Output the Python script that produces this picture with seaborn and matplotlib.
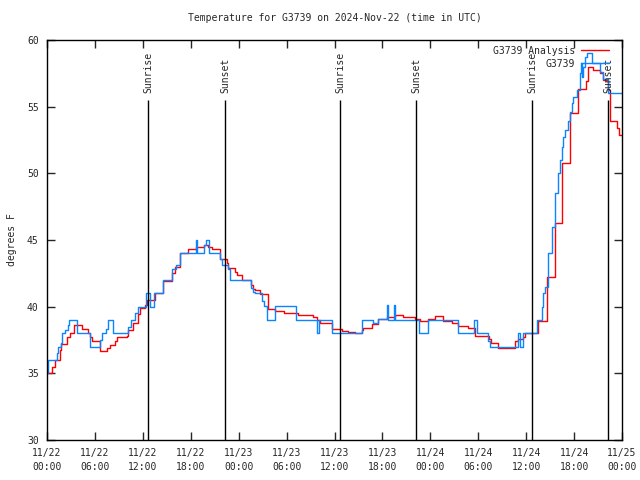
import matplotlib
matplotlib.use("Agg")
import matplotlib.pyplot as plt
import matplotlib.dates as mdates
import seaborn as sns
import numpy as np
import pandas as pd

# data (hours since 2024-11-22 00:00 UTC, degrees F)
analysis_hours = [0, 0.58, 1.0, 1.63, 1.75, 2.46, 2.88, 3.42, 4.42, 5.18, 5.38, 5.68, 6.64,
                  7.47, 7.9, 8.5, 8.72, 10.0, 10.18, 10.8, 11.4, 11.6, 12.3, 12.5, 13.5, 14.57,
                  15.6, 16.0, 16.65, 17.7, 18.7, 19.6, 20.2, 20.6, 21.66, 22.5, 22.7, 23.5,
                  23.8, 24.4, 25.6, 25.84, 26.05, 26.67, 27.63, 28.55, 29.7, 30.4, 31.47, 33.35,
                  33.77, 34.2, 35.65, 36.9, 37.73, 38.57, 39.4, 39.6, 40.65, 41.5, 42.53, 43.57,
                  44.6, 46.08, 46.7, 47.75, 48.6, 49.6, 50.67, 51.5, 52.76, 53.6, 55.35, 55.6,
                  56.52, 58.6, 59.03, 59.65, 59.86, 61.52, 62.56, 63.6, 64.44, 65.49, 66.53,
                  67.49, 67.78, 68.41, 69.25, 69.58, 70.29, 70.5, 71.42, 71.67, 72]
analysis_temp = [35.0, 35.5, 36.0, 36.75, 37.2, 37.75, 38.05, 38.6, 38.3, 38.05, 37.75, 37.4, 36.7,
                 36.9, 37.1, 37.4, 37.7, 37.8, 38.25, 38.75, 39.45, 39.9, 40.1, 40.5, 41.0, 41.95,
                 42.5, 43.0, 44.0, 44.3, 44.5, 44.6, 44.5, 44.3, 43.55, 43.25, 42.9, 42.6,
                 42.4, 42.0, 41.6, 41.3, 41.25, 40.95, 39.8, 39.7, 39.55, 39.5, 39.4, 39.25,
                 39.0, 38.8, 38.3, 38.2, 38.1, 38.05, 38.25, 38.4, 38.7, 39.05, 39.25, 39.4,
                 39.25, 39.1, 38.9, 39.1, 39.3, 38.9, 38.8, 38.55, 38.37, 37.8, 37.55, 37.3,
                 36.9, 37.45, 37.55, 37.75, 38.0, 38.9, 42.2, 46.3, 50.8, 54.5, 56.3,
                 56.9, 57.95, 57.75, 57.5, 57.0, 56.25, 53.95, 53.4, 52.9, 52.9]

station_hours = [0, 0.17, 1.21, 1.42, 1.75, 1.92, 2.25, 2.59, 2.75, 3.71, 5.38, 6.64, 6.85, 7.35,
                 7.6, 8.3, 10.18, 10.5, 11.0, 11.35, 12.35, 12.9, 13.4, 14.5, 15.7, 16.2, 16.7,
                 18.65, 18.75, 19.7, 19.9, 20.3, 21.66, 21.9, 22.7, 22.9, 25.6, 25.84, 26.05,
                 26.88, 27.2, 27.5, 28.55, 31.14, 33.77, 34.06, 35.65, 39.45, 40.78, 41.5, 42.6,
                 42.75, 43.45, 43.6, 46.6, 47.75, 51.5, 53.5, 53.8, 55.26, 55.47, 59.0, 59.2,
                 59.65, 61.3, 61.94, 62.15, 62.35, 62.77, 63.19, 63.6, 64.0, 64.24, 64.44,
                 64.65, 64.86, 65.28, 65.49, 65.7, 65.9, 66.32, 66.74, 66.85, 66.95, 67.07,
                 67.36, 67.57, 68.2, 69.25, 69.58, 70.29, 72]
station_temp = [35.0, 36.0, 36.5, 37.0, 37.25, 38.0, 38.25, 38.6, 39.0, 38.0, 37.0, 37.5, 38.0, 38.3,
                39.0, 38.0, 38.5, 39.0, 39.5, 40.0, 41.0, 40.0, 41.0, 42.0, 42.8, 43.1, 44.0,
                45.0, 44.0, 44.6, 45.0, 44.0, 43.6, 43.1, 42.8, 42.0, 41.4, 41.1, 41.0,
                40.45, 40.05, 39.0, 40.05, 39.0, 38.0, 39.0, 38.0, 39.0, 38.75, 39.05, 40.1,
                39.0, 40.1, 39.0, 38.0, 39.0, 38.0, 39.0, 38.0, 37.45, 36.95, 38.0, 36.95,
                38.0, 39.0, 40.0, 41.0, 41.5, 44.0, 46.0, 48.5, 50.0, 51.0, 52.0,
                52.75, 53.25, 53.9, 54.6, 55.25, 55.75, 56.25, 57.5, 58.3, 57.2, 58.0,
                58.75, 59.05, 58.3, 57.6, 57.05, 56.0, 56.0]

sun_labels = ["Sunrise", "Sunset", "Sunrise", "Sunset", "Sunrise", "Sunset"]
sun_times = ["2024-11-22 12:39", "2024-11-22 22:17", "2024-11-23 12:41",
             "2024-11-23 22:12", "2024-11-24 12:44", "2024-11-24 22:15"]

start = pd.Timestamp("2024-11-22 00:00")
analysis = pd.DataFrame({"time": start + pd.to_timedelta(analysis_hours, unit="h"),
                         "temp": analysis_temp})
station = pd.DataFrame({"time": start + pd.to_timedelta(station_hours, unit="h"),
                        "temp": station_temp})

sns.set_style("ticks")
plt.rcParams["font.family"] = ["DejaVu Sans Mono"]

fig = plt.figure(figsize=(6.4, 4.8), dpi=100)
ax = fig.add_axes([47 / 640, 40 / 480, 575 / 640, 400 / 480])

sns.lineplot(data=analysis, x="time", y="temp", ax=ax, color="#ff0000", lw=1.0,
             drawstyle="steps-post", estimator=None, label="G3739 Analysis")
sns.lineplot(data=station, x="time", y="temp", ax=ax, color="#0a84ff", lw=1.0,
             drawstyle="steps-post", estimator=None, label="G3739")

# sunrise / sunset markers
for lab, t in zip(sun_labels, sun_times):
    t = pd.Timestamp(t)
    ax.vlines(t, 30, 55.5, color="black", lw=1.0)
    ax.text(t, 56.0, lab, rotation=90, ha="center", va="bottom", fontsize=7)

ax.set_xlim(start, start + pd.Timedelta(hours=72))
ax.set_ylim(30, 60)
ax.set_yticks(np.arange(30, 61, 5))
ax.xaxis.set_major_locator(mdates.HourLocator(byhour=[0, 6, 12, 18]))
ax.xaxis.set_major_formatter(mdates.DateFormatter("%m/%d\n%H:%M"))
ax.tick_params(direction="in", length=6, width=1, top=True, right=True, labelsize=7, pad=6)
for lbl in ax.get_xticklabels():
    lbl.set_linespacing(1.5)
for s in ax.spines.values():
    s.set_linewidth(1.0)
    s.set_color("black")

ax.set_xlabel("")
ax.set_ylabel("degrees F", fontsize=7, labelpad=7)
ax.set_title("Temperature for G3739 on 2024-Nov-22 (time in UTC)", fontsize=7, pad=14)

ax.legend(loc="upper right", bbox_to_anchor=(1 - 7 / 575, 1), frameon=False,
          markerfirst=False, fontsize=7, handlelength=2.9, handletextpad=0.6,
          borderaxespad=0.2, labelspacing=0.3)

fig.savefig("out.png", dpi=100)
